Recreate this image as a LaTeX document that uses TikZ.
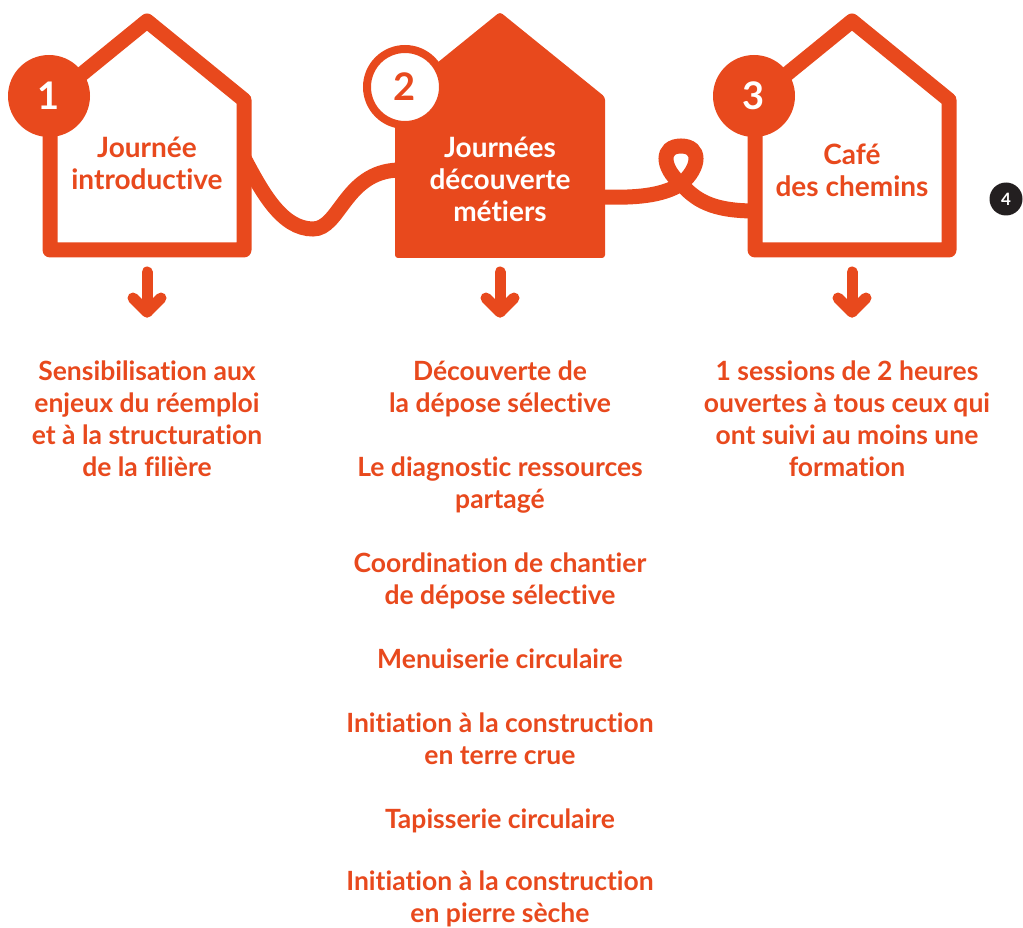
\documentclass[tikz,border=0pt]{standalone}
\usepackage{fontspec}
\setmainfont{Lato}[Ligatures=NoCommon]
\definecolor{org}{HTML}{E8491D}
\definecolor{ink}{HTML}{231F20}
\begin{document}
\begin{tikzpicture}[x=1pt,y=-1pt,
  houseline/.style={draw=org, line width=15pt, line join=round, fill=white},
  housefill/.style={fill=org, rounded corners=3pt},
  wire/.style={draw=org, line width=15pt},
  downarrow/.style={draw=org, line width=11pt, line cap=round, line join=round},
  numdisc/.style={circle, fill=org, minimum size=82pt, inner sep=0pt, text=white,
    font=\bfseries\fontsize{38}{38}\selectfont},
  numring/.style={circle, fill=white, draw=org, line width=8pt, minimum size=76pt, inner sep=0pt, text=org,
    font=\bfseries\fontsize{38}{38}\selectfont},
  badge/.style={circle, fill=ink, minimum size=33pt, inner sep=0pt, text=white,
    font=\bfseries\fontsize{17}{17}\selectfont},
  title/.style={text=org, align=center, inner sep=0pt, anchor=north,
    font=\bfseries\fontsize{28}{32}\selectfont},
  body/.style={text=org, align=center, inner sep=0pt, anchor=north,
    font=\bfseries\fontsize{26.5}{32}\selectfont},
]
\useasboundingbox (0,0) rectangle (1023,928);

% anchor points of the connectors
\coordinate (h1r) at (244,158);
\coordinate (h2l) at (398,170);
\coordinate (h2r) at (602,197);
\coordinate (h3l) at (755,211);
\coordinate (loopx) at (681,184);

% connectors
\draw[wire] (h1r) .. controls (262,192) and (282,229) .. (313,229)
  .. controls (340,229) and (345,172) .. (h2l);
\draw[wire] (h2r) .. controls (635,198) and (662,196) .. (loopx)
  .. controls (701,167) and (701,146) .. (681,146)
  .. controls (661,146) and (661,167) .. (loopx)
  .. controls (695,199) and (710,211) .. (h3l);

% houses
\draw[houseline] (50,100) -- (147,21) -- (244,100) -- (244,250) -- (50,250) -- cycle;
\fill[housefill] (395,97) -- (500,12) -- (605,97) -- (605,258) -- (395,258) -- cycle;
\draw[houseline] (755,100) -- (852,21) -- (949,100) -- (949,250) -- (755,250) -- cycle;

% numbers
\node[numdisc] (n1) at (49,96) {1};
\node[numring] (n2) at (405,87) {2};
\node[numdisc] (n3) at (754,96) {3};
\node[badge] (n4) at (1006,199) {4};

% titles
\node[title] (t1) at (147,135) {\strut Journée\\introductive};
\node[title, text=white] (t2) at (500,135) {\strut Journées\\découverte\\métiers};
\node[title] (t3) at (852,142) {\strut Café\\des chemins};

% arrows
\coordinate (a1s) at (147,272); \coordinate (a1e) at (147,312);
\coordinate (a2s) at (500,272); \coordinate (a2e) at (500,312);
\coordinate (a3s) at (852,272); \coordinate (a3e) at (852,312);
\foreach \s/\e in {a1s/a1e, a2s/a2e, a3s/a3e}{
  \draw[downarrow] (\s) -- (\e);
  \draw[downarrow] ([xshift=-14pt,yshift=14pt]\e) -- (\e) -- ([xshift=14pt,yshift=14pt]\e);
}

% texts
\node[body] (c1) at (147,358) {\strut Sensibilisation aux\\enjeux du réemploi\\et à la structuration\\de la filière};
\node[body] (d1) at (500,358) {\strut Découverte de\\la dépose sélective};
\node[body] (d2) at (500,454) {\strut Le diagnostic ressources\\partagé};
\node[body] (d3) at (500,550) {\strut Coordination de chantier\\de dépose sélective};
\node[body] (d4) at (500,646) {\strut Menuiserie circulaire};
\node[body] (d5) at (500,710) {\strut Initiation à la construction\\en terre crue};
\node[body] (d6) at (500,806) {\strut Tapisserie circulaire};
\node[body] (d7) at (500,868) {\strut Initiation à la construction\\en pierre sèche};
\node[body] (e1) at (847,358) {\strut 1 sessions de 2 heures\\ouvertes à tous ceux qui\\ont suivi au moins une\\formation};
\end{tikzpicture}
\end{document}
